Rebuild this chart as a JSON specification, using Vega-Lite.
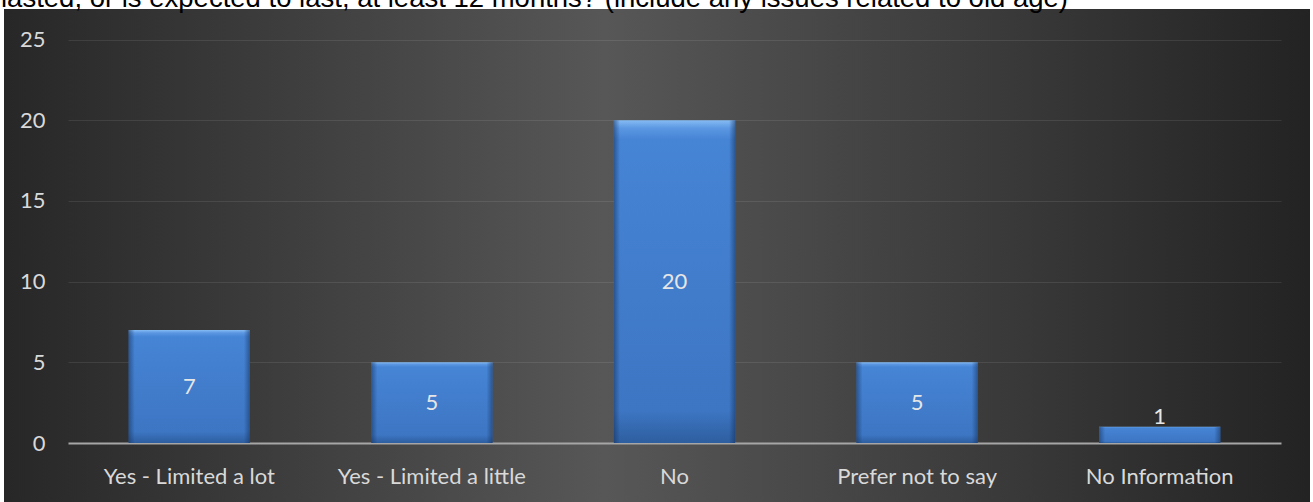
{
  "$schema": "https://vega.github.io/schema/vega-lite/v6.json",
  "width": 1306,
  "height": 493,
  "autosize": {"type": "none"},
  "padding": {"left": 4, "top": 9, "right": 3, "bottom": 0},
  "background": "#ffffff",
  "title": {
    "text": "lasted, or is expected to last, at least 12 months? (include any issues related to old age)",
    "anchor": "start",
    "frame": "group",
    "baseline": "alphabetic",
    "offset": 2,
    "dx": -3,
    "dy": 27,
    "font": "Liberation Sans",
    "fontSize": 27.5,
    "fontWeight": "normal",
    "color": "#000000"
  },
  "data": {
    "values": [
      {"response": "Yes - Limited a lot", "count": 7},
      {"response": "Yes - Limited a little", "count": 5},
      {"response": "No", "count": 20},
      {"response": "Prefer not to say", "count": 5},
      {"response": "No Information", "count": 1}
    ]
  },
  "view": {
    "fill": {
      "gradient": "linear",
      "x1": 0, "y1": 0, "x2": 1, "y2": 0,
      "stops": [
        {"offset": 0, "color": "#272727"},
        {"offset": 0.46, "color": "#575757"},
        {"offset": 1, "color": "#232323"}
      ]
    },
    "stroke": null
  },
  "encoding": {
    "x": {
      "field": "response",
      "type": "nominal",
      "sort": null,
      "scale": {"range": [64, 1277], "paddingInner": 0.5, "paddingOuter": 0.25},
      "axis": {
        "title": null,
        "domain": false,
        "ticks": false,
        "grid": false,
        "labelPadding": 0,
        "offset": -36,
        "labelAngle": 0,
        "labelLimit": 400,
        "labelFont": "Lato",
        "labelFontSize": 22,
        "labelColor": "#d9d9d9"
      }
    },
    "y": {
      "field": "count",
      "type": "quantitative",
      "scale": {"domain": [0, 25], "range": [434, 30.5], "nice": false, "zero": true},
      "axis": {
        "title": null,
        "values": [0, 5, 10, 15, 20, 25],
        "domain": false,
        "ticks": false,
        "labelPadding": 0,
        "offset": -41,
        "grid": true,
        "gridColor": {"condition": {"test": "datum.value === 0", "value": "#a6a6a6"}, "value": "rgba(255,255,255,0.09)"},
        "gridWidth": {"condition": {"test": "datum.value === 0", "value": 2}, "value": 1},
        "labelFont": "Lato",
        "labelFontSize": 22,
        "labelColor": "#d9d9d9"
      }
    }
  },
  "layer": [
    {
      "mark": {
        "type": "bar",
        "stroke": null,
        "fill": {
          "gradient": "linear",
          "x1": 0, "y1": 0, "x2": 0, "y2": 1,
          "stops": [
            {"offset": 0, "color": "#86bcf4"},
            {"offset": 0.025, "color": "#5b97e2"},
            {"offset": 0.06, "color": "#4684d5"},
            {"offset": 0.9, "color": "#3d76c3"},
            {"offset": 1, "color": "#2d5e9f"}
          ]
        }
      }
    },
    {
      "mark": {
        "type": "bar",
        "stroke": null,
        "fill": {
          "gradient": "linear",
          "x1": 0, "y1": 0, "x2": 1, "y2": 0,
          "stops": [
            {"offset": 0, "color": "rgba(20,50,95,0.55)"},
            {"offset": 0.05, "color": "rgba(20,50,95,0)"},
            {"offset": 0.95, "color": "rgba(20,50,95,0)"},
            {"offset": 1, "color": "rgba(20,50,95,0.55)"}
          ]
        }
      }
    },
    {
      "mark": {
        "type": "text",
        "font": "Lato",
        "fontSize": 22,
        "color": "#e6e6e6",
        "baseline": "middle",
        "dy": {"expr": "datum.count < 2 ? -10 : (scale('y', 0) - scale('y', datum.count)) / 2"}
      },
      "encoding": {
        "text": {"field": "count", "type": "quantitative"}
      }
    }
  ]
}
